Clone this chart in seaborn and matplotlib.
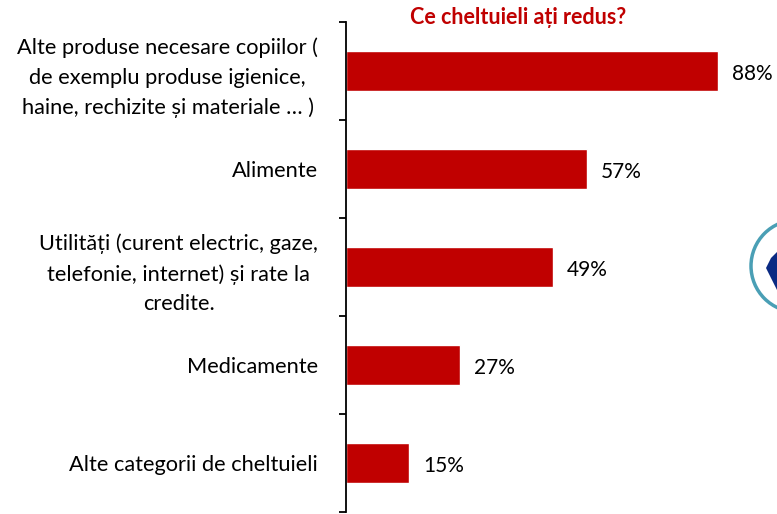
import numpy as np
import pandas as pd
import matplotlib
matplotlib.use("Agg")
import matplotlib.pyplot as plt
import seaborn as sns
from matplotlib.patches import Ellipse, Polygon

categorii = [
    "Alte produse necesare copiilor (\nde exemplu produse igienice,\nhaine, rechizite și materiale … )",
    "Alimente",
    "Utilități (curent electric, gaze,\ntelefonie, internet) și rate la\ncredite.",
    "Medicamente",
    "Alte categorii de cheltuieli",
]
procente = [88, 57, 49, 27, 15]

df = pd.DataFrame({"categorie": categorii, "procent": procente})

sns.set_style("white")
plt.rcParams["font.family"] = ["Lato", "DejaVu Sans"]

fig = plt.figure(figsize=(7.77, 5.14), dpi=100)
ax = fig.add_axes([346 / 777, 2 / 514, 1 - 346 / 777, 490 / 514])

sns.barplot(data=df, x="procent", y="categorie", orient="h",
            color="#C00000", width=0.41, saturation=1, ax=ax)

ax.set_xlim(0, 102)
ax.set_ylim(len(categorii) - 0.5, -0.5)
ax.set_xlabel("")
ax.set_ylabel("")
ax.set_xticks([])

for s in ["top", "right", "bottom"]:
    ax.spines[s].set_visible(False)
ax.spines["left"].set_color("black")
ax.spines["left"].set_linewidth(1.3)

# ticks only at category boundaries
ax.set_yticks(np.arange(len(categorii) + 1) - 0.5, minor=True)
ax.tick_params(axis="y", which="major", length=0, pad=20, labelsize=15.7, labelcolor="black")
ax.tick_params(axis="y", which="minor", length=5, width=1.3, color="black", left=True)
for lbl in ax.get_yticklabels():
    lbl.set_multialignment("center")
    lbl.set_linespacing(1.6)

for i, v in enumerate(procente):
    ax.text(v + 3.3, i + 0.03, f"{v}%", va="center", ha="left", fontsize=15, color="black")

fig.text(518 / 777, 1 - 18 / 514, "Ce cheltuieli ați redus?", ha="center", va="center",
         fontsize=15.5, fontweight="bold", color="#C00000")

# logo partially visible at the right edge
logo = Ellipse((797 / 777, 1 - 266 / 514), 92 / 777, 92 / 514, transform=fig.transFigure,
               fill=False, edgecolor="#4A9FB5", linewidth=2.5, clip_on=False)
fig.patches.append(logo)
shape = Polygon([(766 / 777, 1 - 268 / 514), (771 / 777, 1 - 258 / 514), (777 / 777, 1 - 252 / 514),
                 (777 / 777, 1 - 290 / 514), (771 / 777, 1 - 278 / 514)], closed=True,
                transform=fig.transFigure, facecolor="#0A2A83", edgecolor="none")
fig.patches.append(shape)

fig.savefig("out.png", dpi=100)
